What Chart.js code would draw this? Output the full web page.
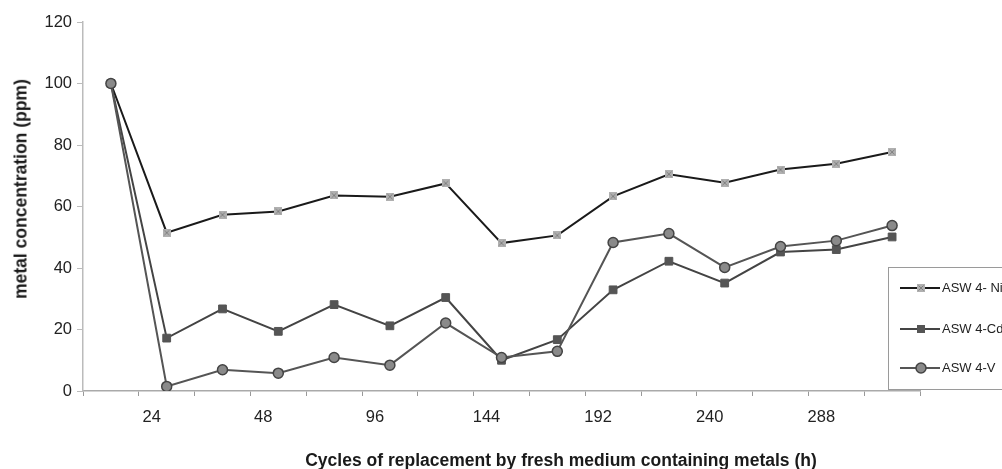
<!DOCTYPE html>
<html>
<head>
<meta charset="utf-8">
<script src="https://cdn.jsdelivr.net/npm/chart.js@4/dist/chart.umd.min.js"></script>
<style>
  html, body { margin: 0; padding: 0; background: #fff; overflow: hidden; }
  #wrap { position: relative; width: 1002px; height: 469px; overflow: hidden; }
  canvas { position: absolute; left: 0; top: 0; }
  .ttl { position: absolute; font-family: "Liberation Sans", Arial, sans-serif; font-weight: bold; color: #1a1a1a; white-space: nowrap; }
  #xt { left: 561px; top: 459.5px; font-size: 17.5px; transform: translate(-50%, -50%); }
  #yt { left: 21px; top: 189px; font-size: 17.5px; transform: translate(-50%, -50%) rotate(-90deg); }
</style>
</head>
<body>
<div id="wrap">
  <canvas id="c" width="1002" height="469"></canvas>
  <div class="ttl" id="xt">Cycles of replacement by fresh medium containing metals (h)</div>
  <div class="ttl" id="yt">metal concentration (ppm)</div>
</div>
<script>
const categories = ["", "24", "", "48", "", "96", "", "144", "", "192", "", "240", "", "288", ""];
const seriesNames = ["ASW 4- Ni", "ASW 4-Cd", "ASW 4-V"];
const niValues = [100, 51.5, 57.3, 58.4, 63.6, 63.2, 67.5, 48.1, 50.6, 63.3, 70.5, 67.7, 72.0, 73.9, 77.7];
const cdValues = [100, 17.2, 26.7, 19.4, 28.1, 21.2, 30.4, 10.0, 16.7, 32.9, 42.2, 35.1, 45.2, 46.0, 50.1];
const vValues  = [100, 1.5, 6.9, 5.8, 10.9, 8.4, 22.1, 10.9, 12.9, 48.3, 51.2, 40.2, 47.0, 48.9, 53.8];
const yTicks = [0, 20, 40, 60, 80, 100, 120];

// Ni marker: light gray square with a faint cross
function niMarker() {
  const c = document.createElement('canvas');
  c.width = 8; c.height = 8;
  const g = c.getContext('2d');
  g.fillStyle = '#b0b0b0'; g.fillRect(0, 0, 8, 8);
  g.strokeStyle = '#808080'; g.lineWidth = 1;
  g.beginPath(); g.moveTo(1.5, 1.5); g.lineTo(6.5, 6.5); g.moveTo(6.5, 1.5); g.lineTo(1.5, 6.5); g.stroke();
  return c;
}
const niImg = niMarker();

const legendPlugin = {
  id: 'boxLegend',
  afterDraw(chart) {
    const ctx = chart.ctx;
    ctx.save();
    ctx.strokeStyle = '#9a9a9a';
    ctx.lineWidth = 1;
    ctx.strokeRect(888.5, 267.5, 140, 122);
    const rows = [288, 329, 368];
    const colors = ['#1a1a1a', '#444', '#555'];
    rows.forEach((y, i) => {
      ctx.strokeStyle = colors[i];
      ctx.lineWidth = 2;
      ctx.beginPath(); ctx.moveTo(900, y); ctx.lineTo(940, y); ctx.stroke();
      if (i === 0) {
        ctx.drawImage(niImg, 917, y - 4);
      } else if (i === 1) {
        ctx.fillStyle = '#555'; ctx.fillRect(917, y - 4, 8, 8);
      } else {
        ctx.beginPath(); ctx.arc(921, y, 5, 0, Math.PI * 2);
        ctx.fillStyle = '#8a8a8a'; ctx.fill();
        ctx.lineWidth = 1.5; ctx.strokeStyle = '#444'; ctx.stroke();
      }
      ctx.fillStyle = '#222';
      ctx.font = '13px "Liberation Sans", Arial, sans-serif';
      ctx.textBaseline = 'middle';
      ctx.textAlign = 'left';
      ctx.fillText(seriesNames[i], 942, y);
    });
    ctx.restore();
  }
};

new Chart(document.getElementById('c'), {
  type: 'line',
  data: {
    labels: categories,
    datasets: [
      { label: seriesNames[0], data: niValues, order: 3, borderColor: '#1a1a1a', borderWidth: 2,
        pointStyle: niImg, pointRadius: 4, tension: 0 },
      { label: seriesNames[1], data: cdValues, order: 2, borderColor: '#444', borderWidth: 2,
        pointStyle: 'rect', pointRadius: 5.5, pointBackgroundColor: '#555', pointBorderColor: '#555', pointBorderWidth: 1, tension: 0 },
      { label: seriesNames[2], data: vValues, order: 1, borderColor: '#555', borderWidth: 2,
        pointStyle: 'circle', pointRadius: 5, pointBackgroundColor: '#8a8a8a', pointBorderColor: '#444', pointBorderWidth: 1.5, tension: 0 }
    ]
  },
  options: {
    responsive: false,
    animation: false,
    devicePixelRatio: 1,
    layout: { padding: { top: 22, right: 82, left: 0, bottom: 0 } },
    plugins: { legend: { display: false }, tooltip: { enabled: false } },
    scales: {
      x: {
        type: 'category',
        offset: true,
        afterFit(s) { s.height = 78; },
        grid: { offset: true, drawOnChartArea: false, tickLength: 5, color: '#999', lineWidth: 1 },
        border: { color: '#aaa', width: 1.5 },
        ticks: { autoSkip: false, maxRotation: 0, padding: 12, labelOffset: -15, color: '#222',
          font: { family: '"Liberation Sans", Arial, sans-serif', size: 16.5 } }
      },
      y: {
        min: 0, max: 120,
        afterFit(s) { s.width = 83; },
        afterBuildTicks(s) { s.ticks = yTicks.map(v => ({ value: v })); },
        grid: { drawOnChartArea: false, tickLength: 6, color: '#bbb', lineWidth: 1 },
        border: { color: '#bbb', width: 1.5 },
        ticks: { padding: 5, color: '#222',
          font: { family: '"Liberation Sans", Arial, sans-serif', size: 16.5 } }
      }
    }
  },
  plugins: [legendPlugin]
});
</script>
</body>
</html>
